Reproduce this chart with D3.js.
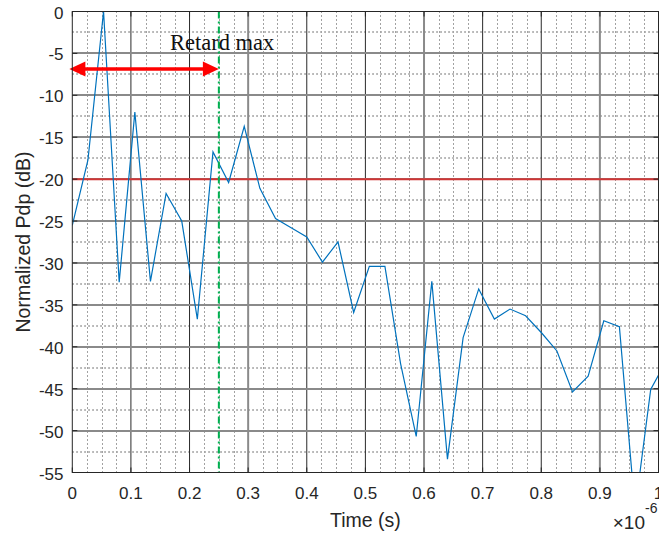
<!DOCTYPE html>
<html><head><meta charset="utf-8">
<script src="https://cdn.jsdelivr.net/npm/d3@7"></script>
<style>html,body{margin:0;padding:0;background:#fff;} svg{display:block;}</style>
</head><body>
<svg id="c" width="659" height="534"></svg>
<script>
// ---- data (time in microseconds, normalized PDP in dB) ----
const timeUs = [0, 0.0267, 0.0533, 0.08, 0.1067, 0.1333, 0.16, 0.1867, 0.2133, 0.24,
  0.2667, 0.2933, 0.32, 0.3467, 0.3733, 0.4, 0.4267, 0.4533, 0.48, 0.5067,
  0.5333, 0.56, 0.5867, 0.6133, 0.64, 0.6667, 0.6933, 0.72, 0.7467, 0.7733,
  0.8, 0.8267, 0.8533, 0.88, 0.9067, 0.9333, 0.96, 0.9867, 1.0133];
const pdpDb = [-25.5, -17.7, 0, -32.3, -12, -32.2, -21.7, -25, -36.7, -16.75,
  -20.4, -13.7, -21.1, -24.7, -25.8, -26.9, -29.9, -27.5, -35.9, -30.4,
  -30.4, -42, -50.7, -32.2, -53.4, -38.9, -33.1, -36.7, -35.5, -36.3,
  -38.3, -40.5, -45.4, -43.5, -36.9, -37.6, -59.5, -45.1, -41.7];
const xTicks = [0, 0.1, 0.2, 0.3, 0.4, 0.5, 0.6, 0.7, 0.8, 0.9, 1];
const xTickLabels = ["0", "0.1", "0.2", "0.3", "0.4", "0.5", "0.6", "0.7", "0.8", "0.9", "1"];
const yTicks = [0, -5, -10, -15, -20, -25, -30, -35, -40, -45, -50, -55];
const yTickLabels = ["0", "-5", "-10", "-15", "-20", "-25", "-30", "-35", "-40", "-45", "-50", "-55"];
const thresholdDb = [-20];
const retardMaxUs = [0.25];
const arrowFromUs = [-0.005];
const arrowDb = [-6.85];
const annotationText = ["Retard max"];
const annotationPos = [0.1667, -4.6];
const xLabel = "Time (s)";
const yLabel = "Normalized Pdp (dB)";
const xExponent = ["\u00d710", "-6"];

// ---- layout ----
const L = 72.3, R = 658.5, T = 11.5, B = 472.5;
const svg = d3.select("#c");
const x = d3.scaleLinear().domain([0, 1]).range([L, R]);
const y = d3.scaleLinear().domain([-55, 0]).range([B, T]);

svg.append("defs").append("clipPath").attr("id", "clip")
  .append("rect").attr("x", L).attr("y", T).attr("width", R - L).attr("height", B - T);

// minor grid
const xMinor = d3.range(0, 1.0001, 0.025).filter(v => Math.abs(v * 10 - Math.round(v * 10)) > 1e-6);
const yMinor = d3.range(-55, 0.0001, 2.5).filter(v => Math.abs(v / 5 - Math.round(v / 5)) > 1e-6);
const g = svg.append("g");
g.selectAll(".xm").data(xMinor).join("line")
  .attr("x1", d => Math.round(x(d)) + 0.5).attr("x2", d => Math.round(x(d)) + 0.5)
  .attr("y1", T).attr("y2", B)
  .attr("stroke", "#444").attr("stroke-width", 1).attr("stroke-dasharray", "1,3");
g.selectAll(".ym").data(yMinor).join("line")
  .attr("x1", L).attr("x2", R)
  .attr("y1", d => Math.round(y(d))).attr("y2", d => Math.round(y(d)))
  .attr("stroke", "#a8a8a8").attr("stroke-width", 2).attr("stroke-dasharray", "1.5,2.5");

// major grid
g.selectAll(".xg").data(xTicks.slice(1, -1)).join("line")
  .attr("x1", d => x(d)).attr("x2", d => x(d))
  .attr("y1", T).attr("y2", B)
  .attr("stroke", (d, i) => i % 3 === 2 ? "#8a8a8a" : "#2a2a2a")
  .attr("stroke-width", (d, i) => i % 3 === 2 ? 2 : 1);
g.selectAll(".yg").data(yTicks.slice(1, -1)).join("line")
  .attr("x1", L).attr("x2", R)
  .attr("y1", d => Math.round(y(d))).attr("y2", d => Math.round(y(d)))
  .attr("stroke", "#8a8a8a").attr("stroke-width", 2);

// threshold line
svg.selectAll(".thr").data(thresholdDb).join("line")
  .attr("x1", L).attr("x2", R).attr("y1", d => y(d)).attr("y2", d => y(d))
  .attr("stroke", "#d03535").attr("stroke-width", 2);

// data line
const pts = timeUs.map((t, i) => [t, pdpDb[i]]);
svg.append("path").datum(pts)
  .attr("clip-path", "url(#clip)")
  .attr("fill", "none").attr("stroke", "#0072BD").attr("stroke-width", 1.2)
  .attr("stroke-linejoin", "miter")
  .attr("d", d3.line().x(d => x(d[0])).y(d => y(d[1])));

// retard max vertical line
svg.selectAll(".rm").data(retardMaxUs).join("line")
  .attr("x1", d => x(d)).attr("x2", d => x(d)).attr("y1", T).attr("y2", B)
  .attr("stroke", "#00b050").attr("stroke-width", 2).attr("stroke-dasharray", "7,3,2,3");

// double arrow
const ax0 = x(arrowFromUs[0]), ax1 = x(retardMaxUs[0]), ay = y(arrowDb[0]);
const hl = 16, hw = 7.5;
svg.append("line").attr("x1", ax0 + hl - 1).attr("x2", ax1 - hl + 1).attr("y1", ay).attr("y2", ay)
  .attr("stroke", "#ff0000").attr("stroke-width", 3.5);
svg.append("path").attr("fill", "#ff0000")
  .attr("d", `M${ax0},${ay}L${ax0 + hl},${ay - hw}L${ax0 + hl},${ay + hw}Z`);
svg.append("path").attr("fill", "#ff0000")
  .attr("d", `M${ax1},${ay}L${ax1 - hl},${ay - hw}L${ax1 - hl},${ay + hw}Z`);

svg.append("text").attr("x", x(annotationPos[0])).attr("y", y(annotationPos[1]))
  .attr("font-family", "'Liberation Serif', serif").attr("font-size", 22.5).attr("fill", "#111")
  .text(annotationText[0]);

// axes box + ticks
const ax = svg.append("g").attr("stroke", "#262626").attr("stroke-width", 1).attr("fill", "none");
ax.append("rect").attr("x", L).attr("y", T).attr("width", R - L).attr("height", B - T);
const tl = 5;
xTicks.forEach(v => {
  ax.append("line").attr("x1", x(v)).attr("x2", x(v)).attr("y1", B).attr("y2", B - tl);
  ax.append("line").attr("x1", x(v)).attr("x2", x(v)).attr("y1", T).attr("y2", T + tl);
});
yTicks.forEach(v => {
  ax.append("line").attr("x1", L).attr("x2", L + tl).attr("y1", y(v)).attr("y2", y(v));
  ax.append("line").attr("x1", R).attr("x2", R - tl).attr("y1", y(v)).attr("y2", y(v));
});

const font = "'Liberation Sans', Arial, sans-serif";
svg.selectAll(".xl").data(xTicks).join("text")
  .attr("x", d => x(d)).attr("y", 499).attr("text-anchor", "middle")
  .attr("font-family", font).attr("font-size", 17).attr("fill", "#262626")
  .text((d, i) => xTickLabels[i]);
svg.selectAll(".yl").data(yTicks).join("text")
  .attr("x", 63.5).attr("y", d => y(d) + 7).attr("text-anchor", "end")
  .attr("font-family", font).attr("font-size", 17).attr("fill", "#262626")
  .text((d, i) => yTickLabels[i]);

svg.append("text").attr("x", (L + R) / 2).attr("y", 527).attr("text-anchor", "middle")
  .attr("font-family", font).attr("font-size", 19.5).attr("fill", "#262626").text(xLabel);
svg.append("text").attr("transform", `translate(30,${(T + B) / 2}) rotate(-90)`)
  .attr("text-anchor", "middle")
  .attr("font-family", font).attr("font-size", 19.5).attr("fill", "#262626").text(yLabel);
svg.append("text").attr("x", 645).attr("y", 529).attr("text-anchor", "end")
  .attr("font-family", font).attr("font-size", 19).attr("fill", "#262626").text(xExponent[0]);
svg.append("text").attr("x", 645).attr("y", 513).attr("text-anchor", "start")
  .attr("font-family", font).attr("font-size", 14).attr("fill", "#262626").text(xExponent[1]);
</script>
</body></html>
